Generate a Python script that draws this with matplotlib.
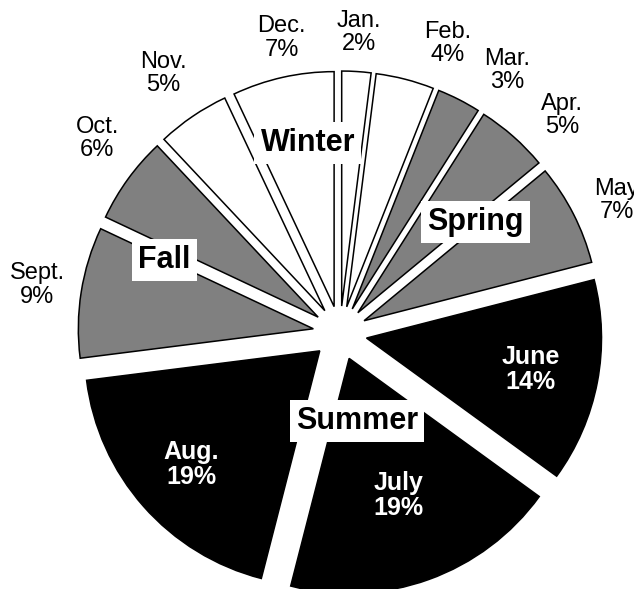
import matplotlib.pyplot as plt
import numpy as np

plt.rcParams['font.family'] = ['Liberation Sans', 'DejaVu Sans']

# data
months = ['Jan.', 'Feb.', 'Mar.', 'Apr.', 'May', 'June',
          'July', 'Aug.', 'Sept.', 'Oct.', 'Nov.', 'Dec.']
shares = [2, 4, 3, 5, 7, 14, 19, 19, 9, 6, 5, 7]
month_colors = ['white', 'white', '#808080', '#808080', '#808080', 'black',
                'black', 'black', '#808080', '#808080', 'white', 'white']
seasons = ['Winter', 'Spring', 'Summer', 'Fall']

# layout (pixels, figure is 634x589 at dpi 100)
cx, cy = 340, 256
R = 235
explode_px = 27
inside = {'June': 0.71, 'July': 0.62, 'Aug.': 0.73}
# outer label distance / angle nudge (deg) per month
out_dist = {'Jan.': 1.165, 'Feb.': 1.2, 'Mar.': 1.21, 'Apr.': 1.21, 'May': 1.19,
            'Sept.': 1.19, 'Oct.': 1.21, 'Nov.': 1.22, 'Dec.': 1.165}
out_nudge = {'Jan.': 0, 'Feb.': -6.6, 'Mar.': -6, 'Apr.': -4.6, 'May': -1.5,
             'Sept.': 0, 'Oct.': -3, 'Nov.': 0, 'Dec.': -1.6}
season_pos = {'Winter': (99.6, 193), 'Spring': (39.4, 175),
              'Summer': (-79, 90), 'Fall': (157.4, 190)}

fig = plt.figure(figsize=(6.34, 5.89), dpi=100)
ax = fig.add_axes([0, 0, 1, 1])

wedges, _ = ax.pie(shares, explode=[explode_px] * len(shares), colors=month_colors,
                   startangle=90, counterclock=False, radius=R, center=(cx, cy),
                   wedgeprops=dict(edgecolor='black', linewidth=1.1))

for w, m, s in zip(wedges, months, shares):
    mid = (w.theta1 + w.theta2) / 2
    x0, y0 = w.center
    txt = f'{m}\n{s}%'
    if m in inside:
        a = np.radians(mid)
        d = inside[m] * w.r
        ax.text(x0 + d * np.cos(a), y0 + d * np.sin(a), txt, color='white',
                fontsize=18, fontweight='bold', ha='center', va='center',
                linespacing=1.05)
    else:
        a = np.radians(mid + out_nudge[m])
        d = out_dist[m] * w.r
        # May label runs off the right edge in the original too
        ax.text(x0 + d * np.cos(a), y0 + d * np.sin(a), txt, color='black',
                fontsize=17, ha='center', va='center', linespacing=1.08,
                clip_on=False)

for name in seasons:
    ang, dist = season_pos[name]
    a = np.radians(ang)
    ax.text(cx + dist * np.cos(a), cy + dist * np.sin(a), name, fontsize=22,
            fontweight='bold', ha='center', va='center',
            bbox=dict(boxstyle='square,pad=0.2', fc='white', ec='none'))

ax.set_xlim(0, 634)
ax.set_ylim(0, 589)
ax.set_aspect('equal')
ax.axis('off')

plt.savefig('out.png', dpi=100)
